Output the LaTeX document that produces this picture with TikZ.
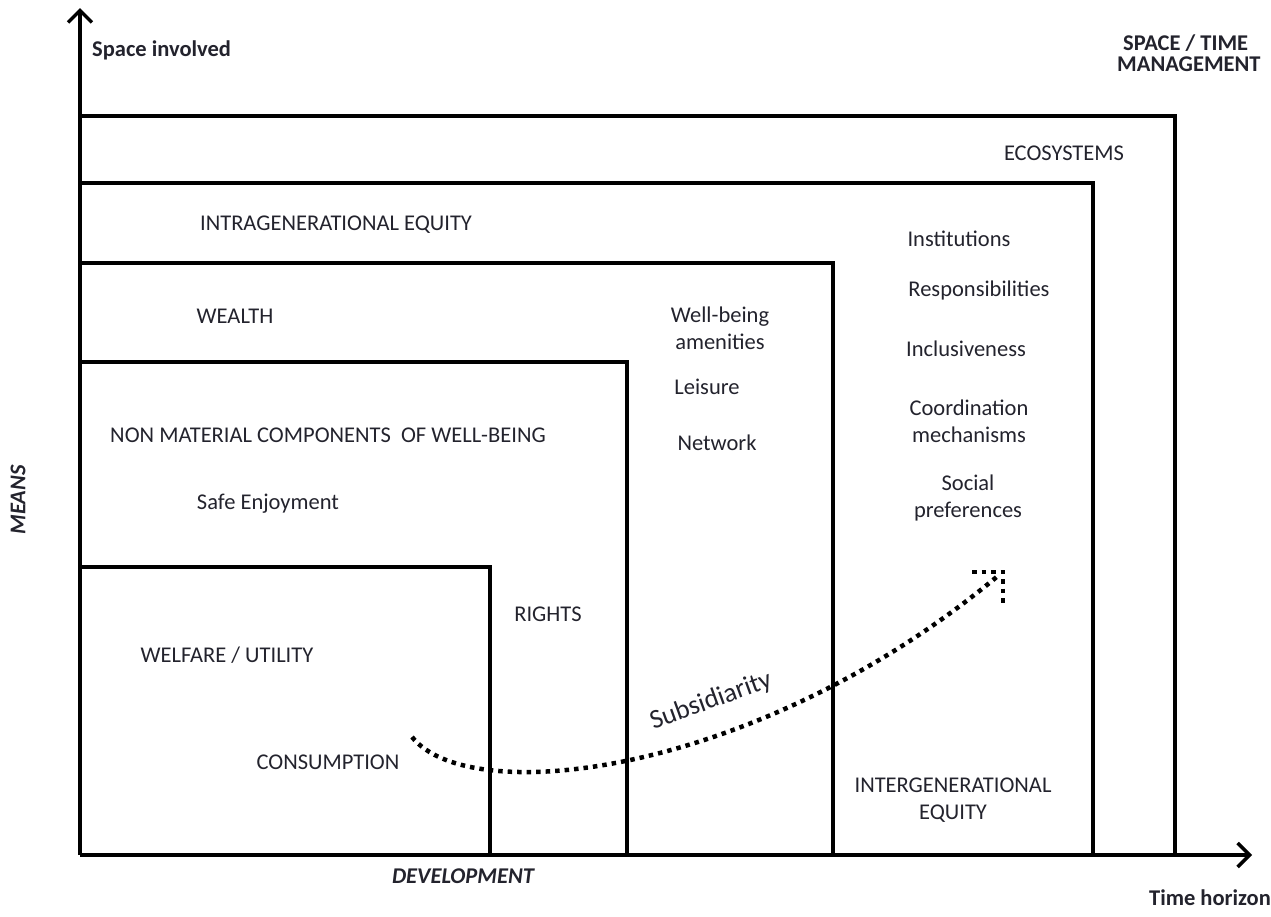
\documentclass[tikz,border=0pt]{standalone}
\usepackage{fontspec}
\setmainfont{Carlito}
\usetikzlibrary{arrows.meta}
\definecolor{txt}{RGB}{35,35,45}
\tikzset{
  box/.style={line width=3.8pt, line join=miter},
  axis/.style={line width=3.8pt, -{Straight Barb[length=12pt,width=24pt,line width=3.5pt]}},
  lbl/.style={text=txt, font=\fontsize{22.5}{27}\selectfont, inner sep=0pt, align=center},
  ttl/.style={text=txt, font=\fontsize{22.5}{21}\selectfont\bfseries, inner sep=0pt, align=left},
  flow/.style={line width=4.5pt, dash pattern=on 4.5pt off 5pt, black},
}
\begin{document}
\begin{tikzpicture}[x=1pt,y=-1pt]
\useasboundingbox (0,0) rectangle (1271,916);
\coordinate (O) at (80,855);
\coordinate (Ytip) at (80,8);
\coordinate (Xtip) at (1252,855);
% boxes
\draw[box] (80,116) -- (1175,116) -- (1175,855);
\draw[box] (80,183) -- (1093,183) -- (1093,855);
\draw[box] (80,263) -- (833,263) -- (833,855);
\draw[box] (80,362) -- (627,362) -- (627,855);
\draw[box] (80,567) -- (490,567) -- (490,855);
% axes
\draw[axis] (O) -- (Ytip);
\draw[axis] (O) -- (Xtip);
% axis labels
\node[ttl, anchor=west] (yl) at (92,50) {Space involved};
\node[ttl, anchor=west] (st) at (1117,53) {\hspace*{6pt}SPACE / TIME\\MANAGEMENT};
\node[ttl, font=\fontsize{22.5}{23}\selectfont\bfseries\itshape] (dev) at (463,876) {DEVELOPMENT};
\node[ttl] (th) at (1210,898) {Time horizon};
\node[ttl, font=\fontsize{22.5}{23}\selectfont\bfseries\itshape, rotate=90] (means) at (18,500) {MEANS};
% labels
\node[lbl] (eco) at (1064,153) {ECOSYSTEMS};
\node[lbl] (intra) at (336,225) {INTRAGENERATIONAL EQUITY};
\node[lbl] (inst) at (959,239) {Institutions};
\node[lbl] (resp) at (979,290) {Responsibilities};
\node[lbl] (incl) at (966,349) {Inclusiveness};
\node[lbl] (coord) at (969,421) {Coordination\\mechanisms};
\node[lbl] (soc) at (968,498) {Social\\preferences};
\node[lbl] (wealth) at (235,316) {WEALTH};
\node[lbl] (wba) at (720,328) {Well-being\\amenities};
\node[lbl] (leis) at (707,387) {Leisure};
\node[lbl] (net) at (717,443) {Network};
\node[lbl] (nonmat) at (328,435) {NON MATERIAL COMPONENTS\ \ OF WELL-BEING};
\node[lbl] (safe) at (268,504) {Safe Enjoyment};
\node[lbl] (rights) at (548,614) {RIGHTS};
\node[lbl] (welf) at (227,655) {WELFARE / UTILITY};
\node[lbl] (cons) at (328,762) {CONSUMPTION};
\node[lbl] (inter) at (953,800) {INTERGENERATIONAL\\EQUITY};
\node[lbl, font=\fontsize{27}{30}\selectfont, rotate=20] (subs) at (711,701) {Subsidiarity};
% dotted arrow
\coordinate (fs) at (412,737);
\coordinate (fe) at (999,575);
\coordinate (h1) at (972,572);
\coordinate (h2) at (1003,572);
\coordinate (h3) at (1003,604);
\draw[flow] (fs) .. controls (470,810) and (760,775) .. (fe);
\draw[flow] (h1) -- (h2) -- (h3);
\end{tikzpicture}
\end{document}
